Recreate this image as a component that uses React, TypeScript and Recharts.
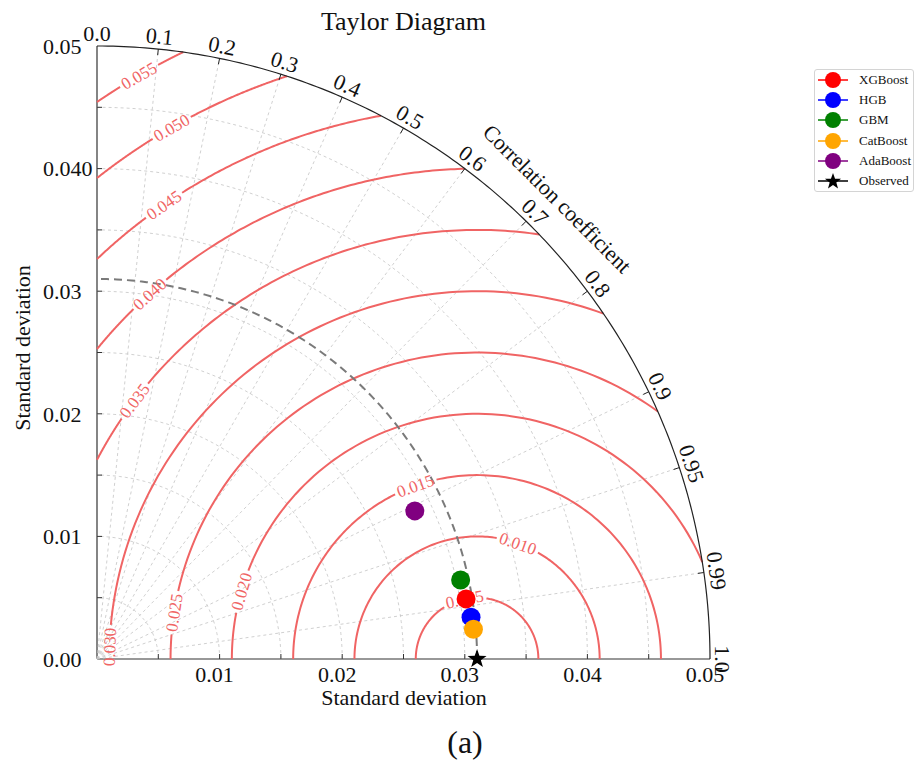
import React from 'react';
import { ScatterChart, Scatter, XAxis, YAxis, Legend } from 'recharts';

// models: standard deviation + correlation with the observation
const MODEL_NAMES = ['XGBoost', 'HGB', 'GBM', 'CatBoost', 'AdaBoost'];
const MODEL_STD = [0.0305, 0.0307, 0.03035, 0.0308, 0.0286];
const MODEL_CORR = [0.987, 0.9938, 0.9772, 0.9969, 0.9064];
const MODEL_COLORS = ['#ff0000', '#0000ff', '#008000', '#ffa500', '#800080'];
const OBSERVED_STD = 0.031;

const CORR_VALUES = [0, 0.1, 0.2, 0.3, 0.4, 0.5, 0.6, 0.7, 0.8, 0.9, 0.95, 0.99, 1];
const CORR_LABELS = ['0.0', '0.1', '0.2', '0.3', '0.4', '0.5', '0.6', '0.7', '0.8', '0.9', '0.95', '0.99', '1.0'];

const STD_MAX = 0.05;
const STD_TICKS = [0, 0.005, 0.01, 0.015, 0.02, 0.025, 0.03, 0.035, 0.04, 0.045, 0.05];
const Y_TICK_LABELS = ['0.00', '', '0.01', '', '0.02', '', '0.03', '', '0.040', '', '0.05'];
const X_TICK_LABELS = ['', '', '0.01', '', '0.02', '', '0.03', '', '0.04', '', '0.05'];
const STD_GRID = [0.005, 0.01, 0.015, 0.02, 0.025, 0.03, 0.035, 0.04, 0.045];

// centred RMS difference contours
const RMSD_LEVELS = [0.005, 0.01, 0.015, 0.02, 0.025, 0.03, 0.035, 0.04, 0.045, 0.05, 0.055];
const RMSD_LABELS = ['0.005', '0.010', '0.015', '0.020', '0.025', '0.030', '0.035', '0.040', '0.045', '0.050', '0.055'];
const RMSD_LABEL_ANGLES = [101.8, 70.5, 109.6, 164, 171.3, 178.1, 143, 131.9, 124.6, 119.9, 120.1];

const PX_PER_UNIT = 613 / STD_MAX;
const RED = '#f06464';
const GRID = '#c4c4c4';
const FONT = '"Liberation Serif", "Times New Roman", serif';

const clamp1 = (v: number) => Math.max(-1, Math.min(1, v));
const deg = (r: number) => (r * 180) / Math.PI;

// polar -> cartesian helpers (origin at 0,0)
const polar = (r: number, t: number) => ({ x: Math.max(0, r * Math.cos(t)), y: Math.max(0, r * Math.sin(t)) });

function samplePolar(r: number, a: number, b: number, n = 90) {
  const pts = [];
  for (let i = 0; i <= n; i++) pts.push(polar(r, a + ((b - a) * i) / n));
  return pts;
}

// rmsd circle around the observed point, clipped to the quarter disk, with a gap for the label
function contourPieces(R: number, labelDeg: number) {
  const c = OBSERVED_STD;
  const lo = Math.acos(clamp1((STD_MAX * STD_MAX - c * c - R * R) / (2 * c * R)));
  const hi = Math.acos(clamp1(-c / R));
  const half = 22 / (R * PX_PER_UNIT);
  const t = (labelDeg * Math.PI) / 180;
  const ranges = [
    [lo, Math.min(hi, t - half)],
    [Math.max(lo, t + half), hi],
  ].filter(([a, b]) => b > a);
  return ranges.map(([a, b]) => {
    const pts = [];
    const n = 90;
    for (let i = 0; i <= n; i++) {
      const tt = a + ((b - a) * i) / n;
      pts.push({ x: Math.max(0, c + R * Math.cos(tt)), y: Math.max(0, R * Math.sin(tt)) });
    }
    return pts;
  });
}

const modelData = MODEL_NAMES.map((name, i) => ({
  name,
  x: MODEL_STD[i] * MODEL_CORR[i],
  y: MODEL_STD[i] * Math.sqrt(1 - MODEL_CORR[i] * MODEL_CORR[i]),
}));

const rmsdLabelData = RMSD_LEVELS.map((R, i) => {
  const t = (RMSD_LABEL_ANGLES[i] * Math.PI) / 180;
  return {
    x: Math.max(0, OBSERVED_STD + R * Math.cos(t)),
    y: Math.max(0, R * Math.sin(t)),
    text: RMSD_LABELS[i],
    rot: 90 - RMSD_LABEL_ANGLES[i],
  };
});

const corrTickData = CORR_VALUES.map((r, i) => ({ ...polar(STD_MAX, Math.acos(r)), r, text: CORR_LABELS[i] }));

const Empty = () => null;

const CorrTick = (props: any) => {
  const { cx, cy, payload } = props;
  const phi = Math.acos(payload.r);
  const ux = Math.cos(phi);
  const uy = -Math.sin(phi);
  const tx = cx + ux * 13;
  const ty = cy + uy * 13;
  return (
    <g>
      {payload.r > 0 && payload.r < 1 && (
        <line x1={cx} y1={cy} x2={cx - ux * 6} y2={cy - uy * 6} stroke="#222" strokeWidth={1} />
      )}
      <text x={tx} y={ty} dy="0.35em" textAnchor="middle" fontSize={22} fill="#111"
        transform={`rotate(${90 - deg(phi)} ${tx} ${ty})`}>
        {payload.text}
      </text>
    </g>
  );
};

const CorrTitle = (props: any) => {
  const { cx, cy } = props;
  const tx = cx + 38 * Math.SQRT1_2;
  const ty = cy - 38 * Math.SQRT1_2;
  return (
    <text x={tx} y={ty} dy="0.35em" textAnchor="middle" fontSize={22} fill="#111"
      transform={`rotate(45 ${tx} ${ty})`}>
      Correlation coefficient
    </text>
  );
};

const RmsdLabel = (props: any) => {
  const { cx, cy, payload } = props;
  return (
    <text x={cx} y={cy} dy="0.35em" textAnchor="middle" fontSize={17} fill={RED}
      transform={`rotate(${payload.rot} ${cx} ${cy})`}>
      {payload.text}
    </text>
  );
};

const dot = (color: string) => (props: any) => <circle cx={props.cx} cy={props.cy} r={9.5} fill={color} />;

function starPath(cx: number, cy: number, R: number, r: number) {
  let d = '';
  for (let k = 0; k < 10; k++) {
    const rad = k % 2 === 0 ? R : r;
    const a = -Math.PI / 2 + (k * Math.PI) / 5;
    d += (k ? 'L' : 'M') + (cx + rad * Math.cos(a)).toFixed(2) + ' ' + (cy + rad * Math.sin(a)).toFixed(2);
  }
  return d + 'Z';
}

const Star = (props: any) => <path d={starPath(props.cx, props.cy, 10, 4)} fill="#000" />;

const labelFor = (labels: string[], v: number) => {
  const i = STD_TICKS.findIndex((t) => Math.abs(t - v) < 1e-9);
  return i >= 0 ? labels[i] : '';
};

const YTick = (props: any) => {
  const { x, y, payload } = props;
  const v = payload.value;
  return (
    <g>
      {v > 0 && v < STD_MAX && <line x1={x} y1={y} x2={x + 5} y2={y} stroke="#333" />}
      <text x={x - 54} y={y} dy="0.35em" textAnchor="start" fontSize={22} fill="#111">
        {labelFor(Y_TICK_LABELS, v)}
      </text>
    </g>
  );
};

const XTick = (props: any) => {
  const { x, y, payload } = props;
  const v = payload.value;
  return (
    <g>
      {v > 0 && v < STD_MAX && <line x1={x} y1={y} x2={x} y2={y - 5} stroke="#333" />}
      <text x={x - 5} y={y + 15} dy="0.35em" textAnchor="middle" fontSize={22} fill="#111">
        {labelFor(X_TICK_LABELS, v)}
      </text>
    </g>
  );
};

const LegendBox = () => {
  const rows = [
    ...MODEL_NAMES.map((n, i) => ({ name: n, color: MODEL_COLORS[i], star: false })),
    { name: 'Observed', color: '#000', star: true },
  ];
  return (
    <div style={{ border: '1px solid #d4d4d4', borderRadius: 3, background: '#fff', width: 98, fontFamily: FONT }}>
      {rows.map((row) => (
        <div key={row.name} style={{ display: 'flex', alignItems: 'center', height: 20.2 }}>
          <svg width={40} height={20} style={{ display: 'block' }}>
            <line x1={3} y1={10} x2={33} y2={10} stroke={row.color} strokeWidth={1.5} />
            {row.star ? <path d={starPath(18, 10.5, 8.5, 3.5)} fill="#000" /> : <circle cx={18} cy={10} r={8} fill={row.color} />}
          </svg>
          <span style={{ fontSize: 13, marginLeft: 4, color: '#111' }}>{row.name}</span>
        </div>
      ))}
    </div>
  );
};

export default function App() {
  const lineSeries = (key: string, data: any[], stroke: string, width: number, dash?: string) => (
    <Scatter key={key} data={data} fill="none" shape={Empty} legendType="none" isAnimationActive={false}
      line={{ stroke, strokeWidth: width, strokeDasharray: dash }} />
  );

  return (
    <div style={{ position: 'absolute', left: 0, top: 0, width: 921, height: 763, background: '#fff', fontFamily: FONT }}>
      <div style={{ position: 'absolute', left: 97, top: 6, width: 613, textAlign: 'center', fontSize: 26, lineHeight: '32px', color: '#111' }}>
        Taylor Diagram
      </div>
      <ScatterChart width={921} height={763} margin={{ top: 46, right: 211, bottom: 64, left: 37 }}>
        <XAxis type="number" dataKey="x" domain={[0, STD_MAX]} ticks={STD_TICKS} interval={0}
          height={40} tickSize={0} tickMargin={0} tick={<XTick />} axisLine={{ stroke: '#333', strokeWidth: 1.2 }}
          label={{ content: () => <text x={404} y={697} dy="0.35em" textAnchor="middle" fontSize={22} fill="#111">Standard deviation</text> }} />
        <YAxis type="number" dataKey="y" domain={[0, STD_MAX]} ticks={STD_TICKS} interval={0}
          width={60} tickSize={0} tickMargin={0} tick={<YTick />} axisLine={{ stroke: '#333', strokeWidth: 1.2 }}
          label={{ content: () => <text x={22} y={348} dy="0.35em" textAnchor="middle" fontSize={22} fill="#111" transform="rotate(-90 22 348)">Standard deviation</text> }} />
        <Legend layout="horizontal" verticalAlign="middle" align="center" content={<LegendBox />}
          wrapperStyle={{ left: 814, top: 69, width: 100 }} />

        {STD_GRID.map((r) => lineSeries(`sg-${r}`, samplePolar(r, 0, Math.PI / 2), GRID, 0.8, '3 3'))}
        {CORR_VALUES.filter((r) => r > 0 && r < 1).map((r) =>
          lineSeries(`ray-${r}`, [{ x: 0, y: 0 }, polar(STD_MAX, Math.acos(r))], GRID, 0.8, '3 3'))}
        {RMSD_LEVELS.map((R, i) =>
          contourPieces(R, RMSD_LABEL_ANGLES[i]).map((pts, j) => lineSeries(`rm-${R}-${j}`, pts, RED, 2)))}
        {lineSeries('obs-arc', samplePolar(OBSERVED_STD, 0, Math.PI / 2, 120), '#7a7a7a', 2, '8 5')}
        {lineSeries('outer', samplePolar(STD_MAX, 0, Math.PI / 2, 180), '#222', 1.2)}

        <Scatter data={rmsdLabelData} shape={RmsdLabel} legendType="none" isAnimationActive={false} />
        <Scatter data={corrTickData} shape={CorrTick} legendType="none" isAnimationActive={false} />
        <Scatter data={[polar(STD_MAX, Math.PI / 4)]} shape={CorrTitle} legendType="none" isAnimationActive={false} />

        {modelData.map((m, i) => (
          <Scatter key={m.name} name={m.name} data={[m]} shape={dot(MODEL_COLORS[i])} isAnimationActive={false} />
        ))}
        <Scatter name="Observed" data={[{ x: OBSERVED_STD, y: 0 }]} shape={Star} isAnimationActive={false} />
      </ScatterChart>
      <div style={{ position: 'absolute', left: 0, top: 722, width: 930, textAlign: 'center', fontSize: 32, lineHeight: '40px', color: '#111' }}>
        (a)
      </div>
    </div>
  );
}
